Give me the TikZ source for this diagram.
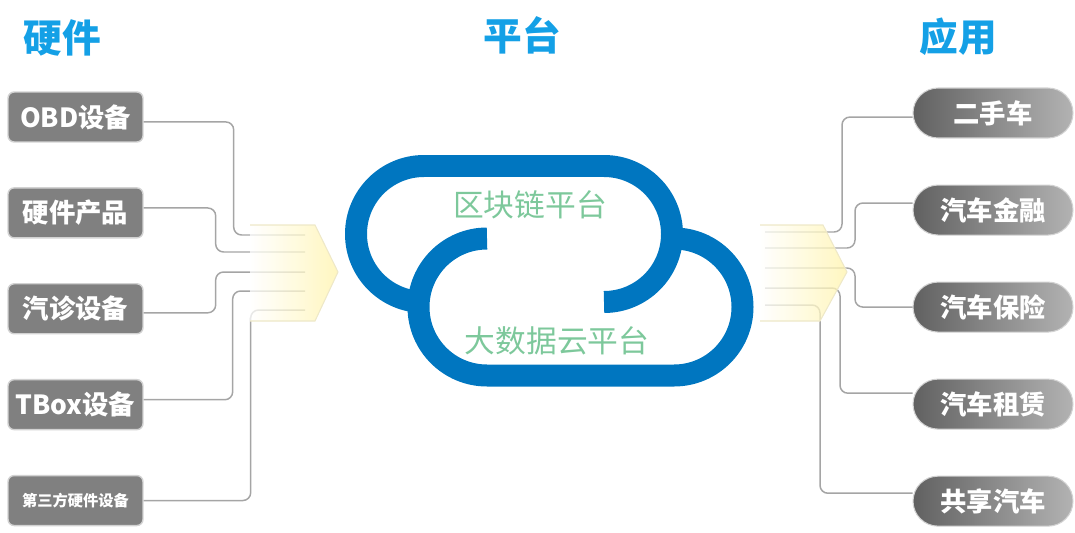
\documentclass[tikz,border=0pt]{standalone}
\usepackage{fontspec}
\setmainfont{Noto Sans CJK SC}
\usetikzlibrary{positioning}
\definecolor{headblue}{RGB}{20,160,230}
\definecolor{cloudblue}{RGB}{0,118,192}
\definecolor{platgreen}{RGB}{125,200,155}
\definecolor{boxgray}{RGB}{128,128,128}
\definecolor{boxedge}{RGB}{210,210,210}
\definecolor{linkgray}{RGB}{165,165,165}
\definecolor{glow}{RGB}{255,243,170}
\definecolor{glowedge}{RGB}{238,232,200}
\tikzset{
heading/.style={text=headblue, font=\bfseries\fontsize{22}{24}\selectfont}, % column titles
hwbox/.style={draw=boxedge, line width=0.8pt, fill=boxgray, rounded corners=3.5pt,
  minimum width=2.7cm, minimum height=1cm, text=white, font=\bfseries\fontsize{15}{17}\selectfont}, % hardware boxes
appbox/.style={draw=boxedge, line width=0.6pt, left color=black!62, right color=black!30,
  rounded corners=0.5cm, minimum width=3.2cm, minimum height=1cm, text=white,
  font=\bfseries\fontsize{15}{17}\selectfont}, % application pills
platform/.style={text=platgreen, font=\fontsize{17.5}{20}\selectfont}, % text in the cloud
link/.style={draw=linkgray, line width=0.85pt, rounded corners=4.5pt}, % grey connectors
ring/.style={draw=cloudblue, line width=0.44cm}, % the two halves of the cloud
chevron/.style={left color=white, right color=glow, fill opacity=0.75, draw=glowedge, line width=0.6pt},
}
\begin{document}
\begin{tikzpicture}[x=0.02cm, y=0.02cm]
\useasboundingbox (0,0) rectangle (1075,532);

% titles
\node[heading] (thw) at (62,494) {硬件};
\node[heading] (tpf) at (522,497) {平台};
\node[heading] (tap) at (958,495) {应用};

% hardware
\node[hwbox] (hw1) at (75.5,415) {OBD设备};
\node[hwbox, below=0.89cm of hw1] (hw2) {硬件产品};
\node[hwbox, below=0.89cm of hw2] (hw3) {汽诊设备};
\node[hwbox, below=0.89cm of hw3] (hw4) {TBox设备};
\node[hwbox, below=0.89cm of hw4, font=\bfseries\fontsize{8.7}{10}\selectfont] (hw5) {第三方硬件设备};

% applications
\node[appbox] (app1) at (993,419) {二手车};
\node[appbox, below=0.92cm of app1] (app2) {汽车金融};
\node[appbox, below=0.92cm of app2] (app3) {汽车保险};
\node[appbox, below=0.92cm of app3] (app4) {汽车租赁};
\node[appbox, below=0.92cm of app4] (app5) {共享汽车};

% ends of the connectors inside the glow
\coordinate (in1) at (305,297);
\coordinate (in2) at (305,280);
\coordinate (in3) at (305,260);
\coordinate (in4) at (305,241);
\coordinate (in5) at (305,222);
\coordinate (out1) at (765,300);
\coordinate (out2) at (765,284);
\coordinate (out3) at (765,264);
\coordinate (out4) at (765,244);
\coordinate (out5) at (765,227);

\draw[link] ([yshift=-2.8pt]hw1.east) -- ++(90,0) |- (in1);
\draw[link] ([yshift=2.8pt]hw2.east) -- ++(72,0) |- (in2);
\draw[link] ([yshift=-2.3pt]hw3.east) -- ++(72,0) |- (in3);
\draw[link] ([yshift=2.8pt]hw4.east) -- ++(89,0) |- (in4);
\draw[link] (hw5.east) -- ++(107,0) |- (in5);

\draw[link] (out1) -- ++(77,0) |- ([yshift=-2.3pt]app1.west);
\draw[link] (out2) -- ++(90,0) |- ([yshift=4pt]app2.west);
\draw[link] (out3) -- ++(90,0) |- (app3.west);
\draw[link] (out4) -- ++(75,0) |- ([yshift=6.2pt]app4.west);
\draw[link] (out5) -- ++(55,0) |- ([yshift=4.5pt]app5.west);

% glowing arrows
\path[chevron] (250,307) -- (315,307) -- (338,260) -- (315,211) -- (250,211);
\path[chevron] (760,307) -- (823,307) -- (847,260) -- (820,211) -- (760,211);

% cloud
\draw[ring] (604,230) arc[start angle=-90, end angle=90, radius=68] -- (424,366)
  arc[start angle=90, end angle=270, radius=68];
\draw[ring] (487,293.5) arc[start angle=90, end angle=270, radius=68.5] -- (674,156.5)
  arc[start angle=-90, end angle=90, radius=68.5];

\node[platform] (chain) at (530,327) {区块链平台};
\node[platform] (bigdata) at (557,191) {大数据云平台};

\end{tikzpicture}
\end{document}
